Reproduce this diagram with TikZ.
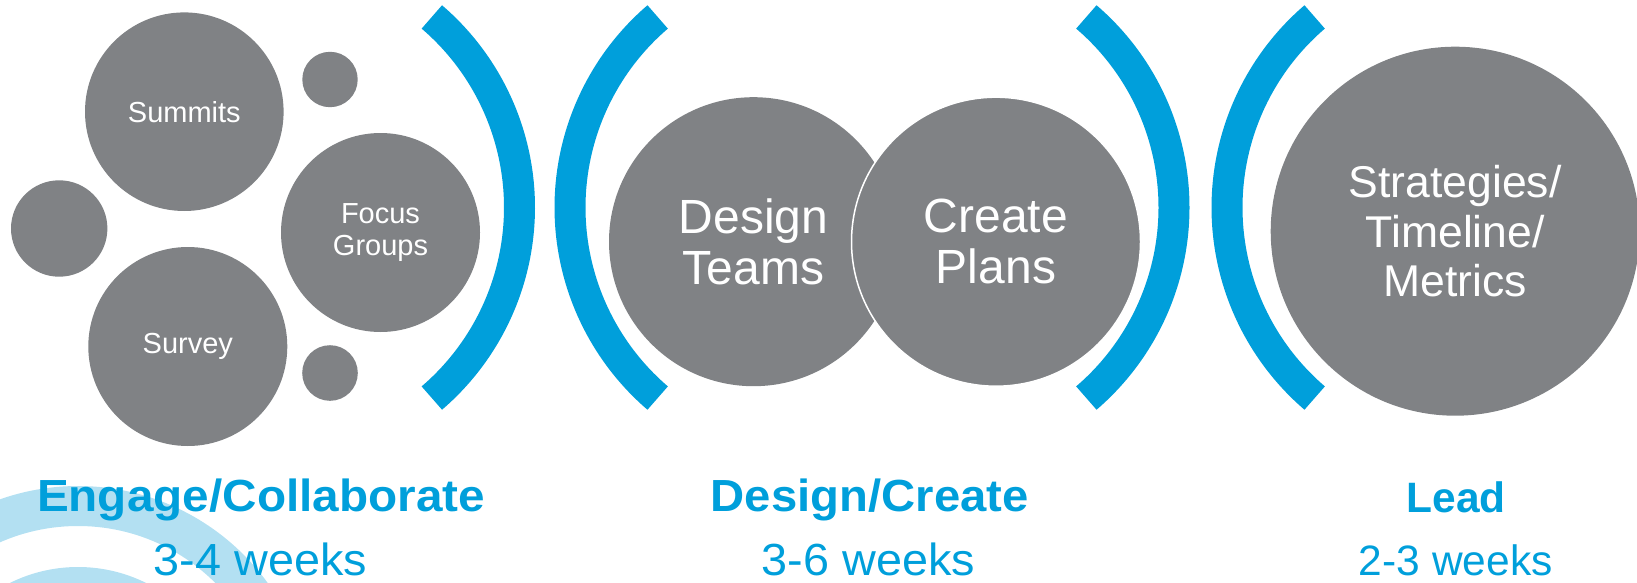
\documentclass[tikz,border=0pt]{standalone}
\usepackage{fontspec}
\usepackage{graphicx}
\setmainfont{Liberation Sans}
\definecolor{brblue}{HTML}{009FDB}
\definecolor{cgray}{HTML}{808285}
\definecolor{lblue}{HTML}{B3E0F2}
\begin{document}
\begin{tikzpicture}[x=1pt,y=-1pt,
  bub/.style={circle,fill=cgray,inner sep=0pt,outer sep=0pt,text=white,align=center},
  smalltxt/.style={font=\fontsize{29}{32}\selectfont},
  bigtxt/.style={font=\fontsize{48}{50.6}\selectfont},
  bracket/.style={draw=brblue,line width=31pt,line cap=butt},
  ripple/.style={draw=lblue,line width=40pt},
  phase/.style={text=brblue,font=\fontsize{45}{50}\selectfont\bfseries,anchor=base,inner sep=0pt},
  dur/.style={text=brblue,font=\fontsize{45}{50}\selectfont,anchor=base,inner sep=0pt}]
\useasboundingbox (0,0) rectangle (1637,583);
\clip (0,0) rectangle (1637,583);
% decorative ripples
\coordinate (rc) at (78,720);
\draw[ripple] (rc) circle[radius=214pt];
\draw[ripple] (rc) circle[radius=133pt];
% left group
\node[bub,minimum size=198.6pt,smalltxt] (summits) at (184.3,111.7) {Summits};
\node[bub,minimum size=55.4pt] (dot1) at (330,79.5) {};
\node[bub,minimum size=96.4pt] (dot2) at (59.2,228.5) {};
\node[bub,minimum size=199pt,smalltxt] (focus) at (380.5,232.5) {Focus\\Groups};
\node[bub,minimum size=199pt,smalltxt] (survey) at (187.8,346.5) {Survey};
\node[bub,minimum size=55.6pt] (dot3) at (330,373) {};
% middle group
\node[bub,minimum size=289pt,bigtxt] (design) at (753.5,241.7) {Design\\Teams};
\node[bub,minimum size=289pt,bigtxt,draw=white,line width=1.5pt] (create) at (996,241.7) {Create\\Plans};
% right
\node[bub,minimum size=369pt,font=\fontsize{44.5}{49.5}\selectfont] (strat) at (1455.2,231.2) {Strategies/\\Timeline/\\Metrics};
% brackets
\coordinate (b1) at (268.5,207.5);
\coordinate (b2) at (821,207.5);
\coordinate (b3) at (923,207.5);
\coordinate (b4) at (1478,207.5);
\draw[bracket] ([shift={(49.4:251pt)}]b1) arc[start angle=49.4,end angle=-49.4,radius=251pt];
\draw[bracket] ([shift={(130.6:251pt)}]b2) arc[start angle=130.6,end angle=229.4,radius=251pt];
\draw[bracket] ([shift={(49.4:251pt)}]b3) arc[start angle=49.4,end angle=-49.4,radius=251pt];
\draw[bracket] ([shift={(130.6:251pt)}]b4) arc[start angle=130.6,end angle=229.4,radius=251pt];
% labels
\node[phase] (l1) at (261,511) {\scalebox{1.06}[1]{Engage/Collaborate}};
\node[dur] (w1) at (260.5,575.5) {\scalebox{1.04}[1]{3-4 weeks}};
\node[phase] (l2) at (869.7,511.5) {\scalebox{1.05}[1]{Design/Create}};
\node[dur] (w2) at (868.3,575.5) {\scalebox{1.04}[1]{3-6 weeks}};
\node[phase,font=\fontsize{42.5}{48}\selectfont\bfseries] (l3) at (1456,512.3) {Lead};
\node[dur,font=\fontsize{42.5}{48}\selectfont] (w3) at (1455.8,575.5) {2-3 weeks};
\end{tikzpicture}
\end{document}
